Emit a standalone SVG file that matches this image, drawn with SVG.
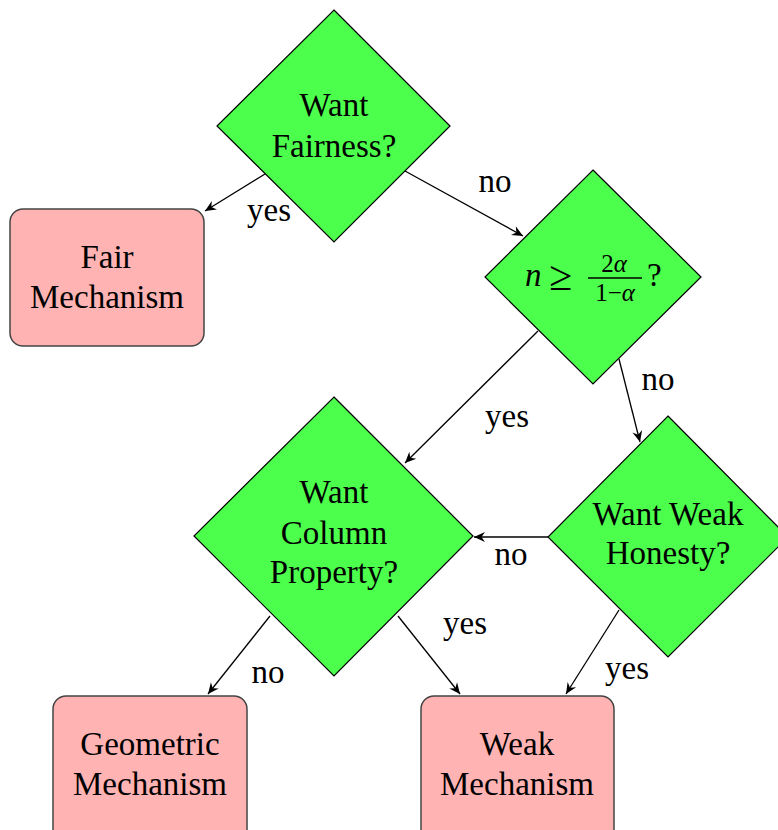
<svg xmlns="http://www.w3.org/2000/svg" width="778" height="830" viewBox="0 0 778 830">
<style>
.dia{fill:#4DFF4D;stroke:#000;stroke-width:1.2}
.box{fill:#FFB3B3;stroke:#444;stroke-width:1.5}
.t{font-family:"Liberation Serif","Times New Roman",serif;font-size:33px;fill:#000;text-anchor:middle}
.lbl{font-family:"Liberation Serif","Times New Roman",serif;font-size:33px;fill:#000;text-anchor:middle}
.m{font-family:"Liberation Serif","Times New Roman",serif;fill:#000}
.edge{stroke:#000;stroke-width:1.3;fill:none;marker-end:url(#arr)}
</style>
<defs>
<marker id="arr" markerUnits="userSpaceOnUse" viewBox="-12 -6 13 12" refX="0" refY="0" markerWidth="13" markerHeight="12" orient="auto">
<path d="M0,0 L-11,-5 L-7.5,0 L-11,5 Z" fill="#000"/>
</marker>
</defs>
<rect width="778" height="830" fill="#fff"/>
<g id="connectors">
<line class="edge" x1="265" y1="174" x2="205" y2="211"/>
<line class="edge" x1="405" y1="171" x2="523" y2="236"/>
<line class="edge" x1="538" y1="331" x2="405" y2="463"/>
<line class="edge" x1="619" y1="359" x2="640" y2="442"/>
<line class="edge" x1="548" y1="537" x2="474" y2="537"/>
<line class="edge" x1="270" y1="616" x2="208" y2="694"/>
<line class="edge" x1="398" y1="616" x2="460" y2="694"/>
<line class="edge" x1="619" y1="610" x2="566" y2="694"/>
<text class="lbl" x="269" y="221">yes</text>
<text class="lbl" x="495" y="192">no</text>
<text class="lbl" x="507" y="427">yes</text>
<text class="lbl" x="658" y="390">no</text>
<text class="lbl" x="511" y="565">no</text>
<text class="lbl" x="268" y="683">no</text>
<text class="lbl" x="465" y="634">yes</text>
<text class="lbl" x="627" y="679">yes</text>
</g>
<g id="want-fairness">
<polygon class="dia" points="334,10 450,126 334,242 217,126"/>
<text class="t" x="334" y="116">Want</text>
<text class="t" x="334" y="157">Fairness?</text>
</g>
<g id="fair-mechanism">
<rect class="box" x="10" y="209" width="194" height="137" rx="13"/>
<text class="t" x="107" y="268">Fair</text>
<text class="t" x="107" y="308">Mechanism</text>
</g>
<g id="n-condition">
<polygon class="dia" points="593,170 701,277 593,384 485,277"/>
<text class="m" x="525" y="286" font-size="33" font-style="italic">n</text>
<text class="m" x="549" y="290" font-size="42">≥</text>
<text class="m" x="614" y="272" font-size="25" text-anchor="middle">2<tspan font-style="italic">α</tspan></text>
<line x1="588" y1="278" x2="642" y2="278" stroke="#000" stroke-width="1.3"/>
<text class="m" x="615" y="301" font-size="25" text-anchor="middle">1−<tspan font-style="italic">α</tspan></text>
<text class="m" x="647" y="286" font-size="33">?</text>
</g>
<g id="want-column">
<polygon class="dia" points="334,397 473,536 334,676 194,536"/>
<text class="t" x="334" y="503">Want</text>
<text class="t" x="334" y="544">Column</text>
<text class="t" x="334" y="583">Property?</text>
</g>
<g id="want-weak-honesty">
<polygon class="dia" points="668,416 788,537 668,657 548,537"/>
<text class="t" x="668" y="525">Want Weak</text>
<text class="t" x="668" y="564">Honesty?</text>
</g>
<g id="geometric-mechanism">
<rect class="box" x="53" y="696" width="194" height="150" rx="13"/>
<text class="t" x="150" y="755">Geometric</text>
<text class="t" x="150" y="795">Mechanism</text>
</g>
<g id="weak-mechanism">
<rect class="box" x="421" y="696" width="193" height="150" rx="13"/>
<text class="t" x="517" y="755">Weak</text>
<text class="t" x="517" y="795">Mechanism</text>
</g>
</svg>
